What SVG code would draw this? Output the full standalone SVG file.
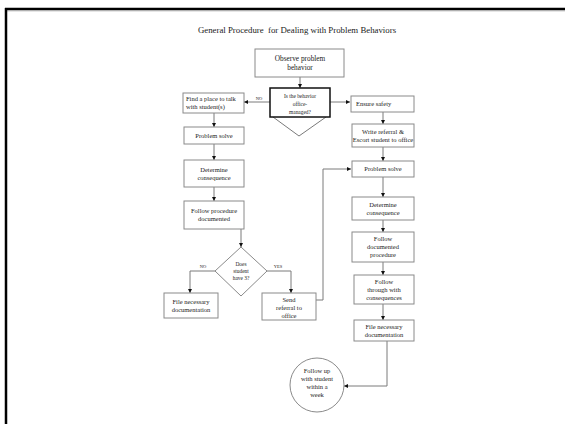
<svg xmlns="http://www.w3.org/2000/svg" width="565" height="424" viewBox="0 0 565 424">
<style>
.bx{fill:#fff;stroke:#8a8a8a;stroke-width:1}
.t{font-family:"Liberation Serif","Times New Roman",serif;font-size:6.5px;fill:#222;text-anchor:middle}
.m{font-family:"Liberation Serif","Times New Roman",serif;font-size:5.4px;fill:#222;text-anchor:middle}
.s{font-family:"Liberation Serif","Times New Roman",serif;font-size:4.5px;fill:#222;text-anchor:middle}
.c{fill:none;stroke:#7a7a7a;stroke-width:1}
</style>
<defs>
<marker id="ah" viewBox="0 0 6 6" refX="6" refY="3" markerWidth="4" markerHeight="4" orient="auto" markerUnits="userSpaceOnUse">
<path d="M0,0 L6,3 L0,6 z" fill="#111"/>
</marker>
</defs>
<rect x="0" y="0" width="565" height="424" fill="#fff"/>
<g id="frame">
<line x1="5" y1="9" x2="565" y2="9" stroke="#000" stroke-width="2.5"/>
<line x1="7" y1="10.8" x2="565" y2="10.8" stroke="#aaa" stroke-width="1"/>
<line x1="6" y1="8" x2="6" y2="424" stroke="#000" stroke-width="2.5"/>
</g>
<text x="297" y="33" style="font-family:'Liberation Serif','Times New Roman',serif;font-size:8.8px;fill:#222;white-space:pre" text-anchor="middle" xml:space="preserve">General Procedure  for Dealing with Problem Behaviors</text>

<g id="connectors" class="c" marker-end="url(#ah)">
<path d="M300,77 V88"/>
<path d="M270,102 H244"/>
<path d="M330,102 H350"/>
<path d="M214,113 V127"/>
<path d="M214,144 V160"/>
<path d="M214,187 V201"/>
<path d="M241,229 V247"/>
<path d="M215,271 H190 V293"/>
<path d="M267,271 H291 V293"/>
<path d="M316,300 H323 V169 H351"/>
<path d="M383,112 V124"/>
<path d="M383,147 V161"/>
<path d="M383,177 V197"/>
<path d="M383,220 V232"/>
<path d="M383,262 V275"/>
<path d="M383,304 V320"/>
<path d="M387,341 V386 H344"/>
</g>
<g id="labels">
<text class="s" x="259" y="100">NO</text>
<text class="s" x="363" y="100">YES</text>
<text class="s" x="203" y="268">NO</text>
<text class="s" x="278" y="268">YES</text>
</g>

<g id="observe"><rect class="bx" x="255" y="49" width="89" height="28"/><text class="t" x="300" y="61" style="font-size:7.3px">Observe problem</text><text class="t" x="300" y="70" style="font-size:7.3px">behavior</text></g>
<g id="decision1">
<polyline points="273,117 299,136 326,117" class="c"/>
<rect x="270" y="88" width="60" height="29" fill="#fff" stroke="#111" stroke-width="1.5"/>
<text class="m" x="300" y="98">Is the behavior</text><text class="m" x="300" y="106">office-</text><text class="m" x="300" y="114">managed?</text>
</g>
<g id="findplace"><rect class="bx" x="183" y="93" width="61" height="20"/><text class="t" x="186" y="101" style="text-anchor:start">Find a place to talk</text><text class="t" x="186" y="109" style="text-anchor:start">with student(s)</text></g>
<g id="problemL"><rect class="bx" x="184" y="127" width="60" height="17"/><text class="t" x="214" y="138">Problem solve</text></g>
<g id="determineL"><rect class="bx" x="184" y="160" width="60" height="27"/><text class="t" x="214" y="172">Determine</text><text class="t" x="214" y="180">consequence</text></g>
<g id="followL"><rect class="bx" x="184" y="201" width="60" height="28"/><text class="t" x="214" y="213">Follow procedure</text><text class="t" x="214" y="221">documented</text></g>
<g id="decision2"><polygon class="bx" points="241,247 267,271 241,296 215,271"/><text class="m" x="241" y="266">Does</text><text class="m" x="241" y="273">student</text><text class="m" x="241" y="280">have 3?</text></g>
<g id="fileL"><rect class="bx" x="164" y="293" width="54" height="25"/><text class="t" x="191" y="304">File necessary</text><text class="t" x="191" y="312">documentation</text></g>
<g id="send"><rect class="bx" x="262" y="293" width="54" height="27"/><text class="t" x="289" y="302">Send</text><text class="t" x="289" y="310">referral to</text><text class="t" x="289" y="318">office</text></g>

<g id="ensure"><rect class="bx" x="351" y="96" width="63" height="16"/><text class="t" x="356" y="106" style="text-anchor:start">Ensure safety</text></g>
<g id="write"><rect class="bx" x="352" y="124" width="62" height="23"/><text class="t" x="383" y="134">Write referral &amp;</text><text class="t" x="383" y="142">Escort student to office</text></g>
<g id="problemR"><rect class="bx" x="352" y="161" width="62" height="16"/><text class="t" x="383" y="171">Problem solve</text></g>
<g id="determineR"><rect class="bx" x="352" y="197" width="62" height="23"/><text class="t" x="383" y="207">Determine</text><text class="t" x="383" y="215">consequence</text></g>
<g id="followR"><rect class="bx" x="352" y="232" width="62" height="30"/><text class="t" x="383" y="241">Follow</text><text class="t" x="383" y="249">documented</text><text class="t" x="383" y="257">procedure</text></g>
<g id="through"><rect class="bx" x="354" y="275" width="60" height="29"/><text class="t" x="384" y="284">Follow</text><text class="t" x="384" y="292">through with</text><text class="t" x="384" y="300">consequences</text></g>
<g id="fileR"><rect class="bx" x="354" y="320" width="60" height="21"/><text class="t" x="384" y="329">File necessary</text><text class="t" x="384" y="337">documentation</text></g>
<g id="followup"><circle class="bx" cx="317" cy="385" r="27"/><text class="t" x="317" y="373">Follow up</text><text class="t" x="317" y="381">with student</text><text class="t" x="317" y="389">within a</text><text class="t" x="317" y="397">week</text></g>
</svg>
